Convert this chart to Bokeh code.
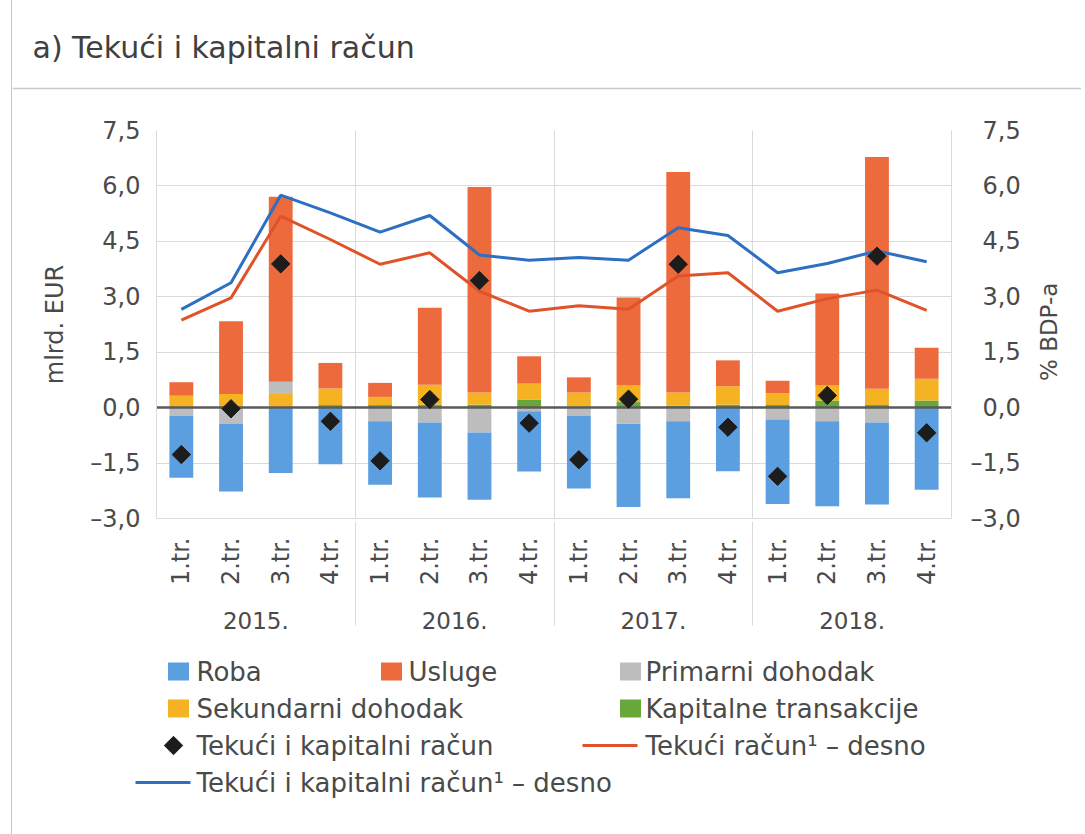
import math
import json
from bokeh.plotting import figure
from bokeh.models import (FactorRange, Range1d, LinearAxis, FixedTicker,
                          CustomJSTickFormatter)
from bokeh.embed import file_html
from bokeh.resources import INLINE
from bokeh.core.properties import value

# ---------------- data ----------------
years = ["2015.", "2016.", "2017.", "2018."]
quarters = ["1.tr.", "2.tr.", "3.tr.", "4.tr."]

roba = [-1.68, -1.83, -1.77, -1.53, -1.72, -2.03, -1.82, -1.63,
        -1.98, -2.25, -2.08, -1.72, -2.29, -2.30, -2.22, -2.22]
usluge = [0.37, 1.97, 5.01, 0.69, 0.38, 2.08, 5.56, 0.74,
          0.41, 2.38, 5.97, 0.70, 0.34, 2.49, 6.27, 0.84]
primarni = [-0.22, -0.44, 0.33, 0.00, -0.37, -0.40, -0.67, -0.10,
            -0.21, -0.44, -0.37, 0.00, -0.32, -0.37, -0.40, 0.00]
sekundarni = [0.30, 0.35, 0.35, 0.45, 0.22, 0.54, 0.33, 0.43,
              0.38, 0.45, 0.36, 0.50, 0.32, 0.41, 0.44, 0.59]
kapitalne = [0.02, 0.02, 0.02, 0.07, 0.07, 0.08, 0.08, 0.22,
             0.03, 0.15, 0.05, 0.08, 0.07, 0.19, 0.07, 0.19]
tekuci_kapitalni = [-1.27, -0.03, 3.89, -0.37, -1.44, 0.22, 3.44, -0.42,
                    -1.41, 0.23, 3.88, -0.53, -1.86, 0.33, 4.10, -0.68]
tekuci_pct = [2.37, 2.97, 5.18, 4.55, 3.88, 4.19, 3.15, 2.61,
              2.76, 2.66, 3.56, 3.65, 2.61, 2.95, 3.18, 2.63]
tekuci_kapitalni_pct = [2.66, 3.38, 5.75, 5.27, 4.75, 5.20, 4.13, 3.99,
                        4.06, 3.99, 4.87, 4.66, 3.65, 3.90, 4.24, 3.95]
y_ticks = [-3.0, -1.5, 0.0, 1.5, 3.0, 4.5, 6.0, 7.5]

title_text = "a) Tekući i kapitalni račun"
left_label = "mlrd. EUR"
right_label = "% BDP-a"
legend_labels = ["Roba", "Usluge", "Primarni dohodak", "Sekundarni dohodak",
                 "Kapitalne transakcije", "Tekući i kapitalni račun",
                 "Tekući račun¹ – desno", "Tekući i kapitalni račun¹ – desno"]

# ---------------- style ----------------
FONT = "DejaVu Sans"
TXT = "#4a4a4a"
C_ROBA = "#5b9fe0"
C_USL = "#ec6a3c"
C_PRIM = "#bdbdbd"
C_SEK = "#f5b324"
C_KAP = "#6aa73a"
C_LINE_O = "#e0532a"
C_LINE_B = "#2d6fc2"
C_DIA = "#1c1c1c"
GRID = "#dadada"
BORDER_STYLE = {"margin-left": "11px", "border-left": "1px solid #c3c6d0"}

OX = 12          # window x of figure content origin
W = 1070
H_T, H_M, H_L = 90, 550, 194
LEG_FS = "26px"
FR_L, FR_R, FR_T, FR_B = 156, 951, 130, 518   # plot frame in window pixels
RIGHT_LABEL_BOTTOM = 0.72   # where the right-hand axis title starts (layout)

# axis factors (a little leading invisible padding pushes year labels down)
PAD = "\u2009"
factors = [(y, PAD + q) for y in years for q in quarters]

# ---------------- title ----------------
tf = figure(width=W, height=H_T, x_range=Range1d(0, W), y_range=Range1d(0, H_T),
            x_axis_location=None, y_axis_location=None, toolbar_location=None,
            output_backend="svg", min_border=0, outline_line_color=None,
            styles=BORDER_STYLE)
tf.grid.visible = False
tf.text(x=[32 - OX], y=[H_T - 47], text=[title_text],
        text_font=value(FONT), text_font_size="30px", text_color="#404040",
        text_baseline="middle")
tf.segment(x0=[0], y0=[H_T - 88], x1=[W], y1=[H_T - 88],
           line_color="#c9c9c9", line_width=1.5)

# ---------------- main chart ----------------
p = figure(width=W, height=H_M,
           x_range=FactorRange(*factors, range_padding=0, group_padding=0,
                               factor_padding=0),
           y_range=Range1d(y_ticks[0], y_ticks[-1]),
           toolbar_location=None, output_backend="svg",
           min_border_left=FR_L - OX, min_border_right=W - (FR_R - OX),
           min_border_top=FR_T - H_T, min_border_bottom=(H_T + H_M) - FR_B,
           outline_line_color=None, styles=BORDER_STYLE)
p.extra_y_ranges = {"pct": Range1d(y_ticks[0], y_ticks[-1])}

fmt_left = CustomJSTickFormatter(code="""
const s = Math.abs(tick).toFixed(1).replace('.', ',');
return tick < 0 ? '\u2013' + s : s;
""")
fmt_right = CustomJSTickFormatter(code="""
const s = Math.abs(tick).toFixed(1).replace('.', ',');
return tick < 0 ? '\u2013' + s : '\u2002' + s;
""")

p.xgrid.visible = False
p.ygrid.ticker = FixedTicker(ticks=y_ticks)
p.ygrid.grid_line_color = GRID
p.ygrid.grid_line_width = 1

# group separators inside plot
n_q = len(quarters)
p.vspan(x=[i * n_q for i in range(1, len(years))], line_color=GRID, line_width=1)

# stacked bars (positive and negative stacks separately)
series = [(kapitalne, C_KAP), (sekundarni, C_SEK), (primarni, C_PRIM),
          (usluge, C_USL), (roba, C_ROBA)]
pos = [0.0] * len(factors)
neg = [0.0] * len(factors)
for vals, col in series:
    bottoms, tops = [], []
    for i, v in enumerate(vals):
        if v >= 0:
            b = pos[i]; t = b + v; pos[i] = t
        else:
            b = neg[i]; t = b + v; neg[i] = t
        bottoms.append(b); tops.append(t)
    p.vbar(x=factors, bottom=bottoms, top=tops, width=0.48,
           fill_color=col, line_color=None)

p.hspan(y=[0], line_color="#5a5a5a", line_width=2.5)

p.line(x=factors, y=tekuci_pct, y_range_name="pct", line_color=C_LINE_O,
       line_width=3)
p.line(x=factors, y=tekuci_kapitalni_pct, y_range_name="pct",
       line_color=C_LINE_B, line_width=3)
p.scatter(x=factors, y=tekuci_kapitalni, marker="square", angle=math.pi / 4,
          size=13, fill_color=C_DIA, line_color=C_DIA)

# x axis
xa = p.xaxis[0]
xa.major_label_orientation = math.pi / 2
xa.major_label_text_font = FONT
xa.major_label_text_font_size = "24px"
xa.major_label_text_color = TXT
xa.major_label_standoff = 19
xa.major_tick_line_color = None
xa.major_tick_out = 0
xa.axis_line_color = GRID
xa.group_text_font = FONT
xa.group_text_font_size = "23px"
xa.group_text_color = TXT
xa.group_text_font_style = "normal"
xa.separator_line_color = GRID
xa.separator_line_width = 1

# left y axis
ya = p.yaxis[0]
ya.ticker = FixedTicker(ticks=y_ticks)
ya.formatter = fmt_left
ya.major_tick_line_color = None
ya.minor_tick_line_color = None
ya.major_tick_out = 0
ya.major_label_standoff = 16
ya.major_label_text_font = FONT
ya.major_label_text_font_size = "24px"
ya.major_label_text_color = TXT
ya.axis_line_color = GRID
ya.axis_label = left_label
ya.axis_label_text_font = FONT
ya.axis_label_text_font_size = "24px"
ya.axis_label_text_font_style = "normal"
ya.axis_label_text_color = TXT
ya.axis_label_standoff = 18

# right y axis
ra = LinearAxis(y_range_name="pct", ticker=FixedTicker(ticks=y_ticks),
                formatter=fmt_right)
ra.major_tick_line_color = None
ra.minor_tick_line_color = None
ra.major_tick_out = 0
ra.major_label_standoff = 19
ra.major_label_text_font = FONT
ra.major_label_text_font_size = "24px"
ra.major_label_text_color = TXT
ra.axis_line_color = GRID
p.add_layout(ra, "right")

# right-hand axis title (reads bottom-to-top) drawn as a rotated single label
rt = LinearAxis(y_range_name="pct", ticker=FixedTicker(ticks=[RIGHT_LABEL_BOTTOM]),
                formatter=CustomJSTickFormatter(code="return %s;" % json.dumps(right_label)))
rt.axis_line_color = None
rt.major_tick_line_color = None
rt.minor_tick_line_color = None
rt.major_tick_out = 0
rt.major_label_standoff = 26
rt.major_label_orientation = math.pi / 2
rt.major_label_text_font = FONT
rt.major_label_text_font_size = "23px"
rt.major_label_text_color = TXT
p.add_layout(rt, "right")

# ---------------- legend ----------------
lf = figure(width=W, height=H_L, x_range=Range1d(0, W), y_range=Range1d(0, H_L),
            x_axis_location=None, y_axis_location=None, toolbar_location=None,
            output_backend="svg", min_border=0, outline_line_color=None,
            styles=BORDER_STYLE)
lf.grid.visible = False

TOP_L = H_T + H_M


def ly(win_y):
    return (TOP_L + H_L) - win_y


def lx(win_x):
    return win_x - OX


rows = [671, 708, 745, 782]
sq_items = [(0, C_ROBA, 178, 196, 0), (1, C_USL, 391, 408, 0),
            (2, C_PRIM, 630, 645, 0), (3, C_SEK, 178, 196, 1),
            (4, C_KAP, 630, 645, 1)]


def legend_text(wx, wy, txt):
    lf.text(x=[lx(wx)], y=[ly(wy)], text=[txt], text_font=value(FONT),
            text_font_size=LEG_FS, text_color=TXT, text_baseline="middle")


for idx, col, sx, tx, r in sq_items:
    lf.rect(x=[lx(sx)], y=[ly(rows[r])], width=21, height=18,
            fill_color=col, line_color=None)
    legend_text(tx, rows[r], legend_labels[idx])

lf.scatter(x=[lx(173)], y=[ly(rows[2])], marker="square", angle=math.pi / 4,
           size=13, fill_color=C_DIA, line_color=C_DIA)
legend_text(196, rows[2], legend_labels[5])
lf.segment(x0=[lx(582)], y0=[ly(rows[2])], x1=[lx(637)], y1=[ly(rows[2])],
           line_color=C_LINE_O, line_width=3)
legend_text(645, rows[2], legend_labels[6])
lf.segment(x0=[lx(135)], y0=[ly(rows[3])], x1=[lx(190)], y1=[ly(rows[3])],
           line_color=C_LINE_B, line_width=3)
legend_text(196, rows[3], legend_labels[7])

open("out.html", "w").write(file_html([tf, p, lf], INLINE))
